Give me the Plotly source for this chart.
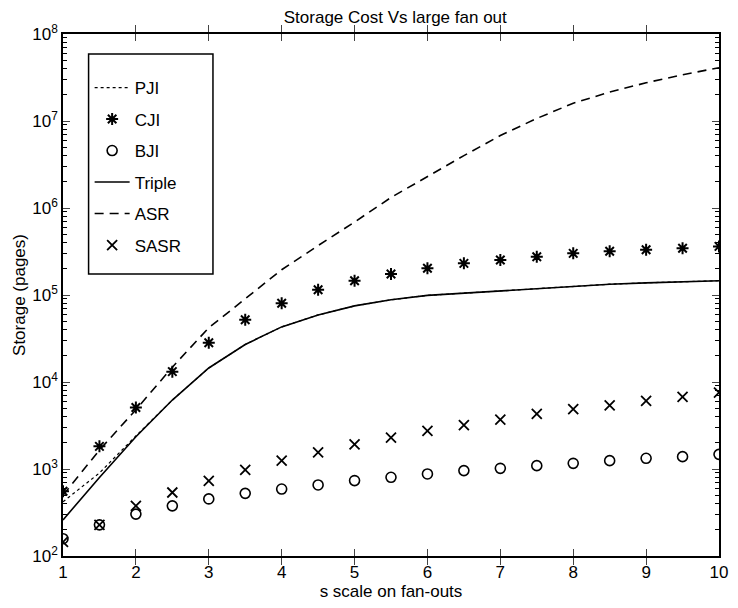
import plotly.graph_objects as go

x_vals = [1, 1.5, 2, 2.5, 3, 3.5, 4, 4.5, 5, 5.5, 6, 6.5, 7, 7.5, 8, 8.5, 9, 9.5, 10]

pji = [420, 900, 2400, 6200, 14500, 27000, 43000, 59000, 75000, 88000, 99000, 105000,
       112000, 120000, 127000, 133000, 138000, 143000, 146000]
cji = [556, 1820, 5090, 13150, 28300, 51900, 80500, 115000, 146000, 174500, 203000, 231000,
       252000, 275000, 301000, 318000, 331000, 344000, 362000]
bji = [158, 228, 303, 377, 453, 525, 588, 656, 736, 803, 877, 958,
       1018, 1093, 1162, 1248, 1327, 1387, 1473]
triple = [260, 800, 2350, 6200, 14500, 27000, 43000, 59000, 75000, 88000, 99000, 105000,
          112000, 120000, 127000, 133000, 138000, 143000, 146000]
asr = [500, 1650, 4800, 14800, 42000, 91000, 195000, 370000, 690000, 1320000, 2300000,
       4000000, 6800000, 10700000, 16000000, 21500000, 27500000, 34000000, 41000000]
sasr = [145, 228, 377, 537, 729, 975, 1250, 1550, 1920, 2290, 2750, 3190,
        3700, 4310, 4870, 5400, 6070, 6740, 7570]

y_tickvals = [1e2, 1e3, 1e4, 1e5, 1e6, 1e7, 1e8]
y_ticktext = ["10<sup>2</sup>", "10<sup>3</sup>", "10<sup>4</sup>", "10<sup>5</sup>",
              "10<sup>6</sup>", "10<sup>7</sup>", "10<sup>8</sup>"]
x_tickvals = [1, 2, 3, 4, 5, 6, 7, 8, 9, 10]

minor_vals = [m * 10 ** e for e in range(2, 8) for m in range(2, 10)]

FONT = "Liberation Sans, Arial, Helvetica, sans-serif"

fig = go.Figure()
fig.add_trace(go.Scatter(x=x_vals, y=pji, name="PJI", mode="lines",
                         line=dict(color="black", width=1.2, dash="dot"), legendgroup="a"))
fig.add_trace(go.Scatter(x=x_vals, y=cji, name="CJI", mode="markers",
                         marker=dict(symbol="asterisk-open", size=10, color="black",
                                     line=dict(color="black", width=2)), legendgroup="b"))
fig.add_trace(go.Scatter(x=x_vals, y=bji, name="BJI", mode="markers",
                         marker=dict(symbol="circle-open", size=10, color="black",
                                     line=dict(color="black", width=1.6)), legendgroup="c"))
fig.add_trace(go.Scatter(x=x_vals, y=triple, name="Triple", mode="lines",
                         line=dict(color="black", width=1.6), legendgroup="d"))
fig.add_trace(go.Scatter(x=x_vals, y=asr, name="ASR", mode="lines",
                         line=dict(color="black", width=1.6, dash="9px,6px"), legendgroup="e"))
fig.add_trace(go.Scatter(x=x_vals, y=sasr, name="SASR", mode="markers", yaxis="y2",
                         marker=dict(symbol="x-thin-open", size=10, color="black",
                                     line=dict(color="black", width=1.8)), legendgroup="f"))

fig.update_layout(
    width=738, height=608,
    margin=dict(l=63, r=10, t=34, b=50),
    paper_bgcolor="white", plot_bgcolor="white",
    font=dict(family=FONT, size=17, color="black"),
    title=dict(text="Storage Cost Vs large fan out", x=0.5356, xanchor="center",
               y=0.972, yanchor="middle", font=dict(size=17)),
    showlegend=True,
    legend=dict(x=0.0406, y=0.931, xanchor="left", yanchor="top",
                borderwidth=0, bgcolor="rgba(0,0,0,0)",
                font=dict(size=17), tracegroupgap=6.4, itemwidth=35),
    shapes=[dict(type="rect", xref="paper", yref="paper",
                 x0=0.039, x1=0.2286, y0=0.540, y1=0.9618,
                 line=dict(color="black", width=1.5), fillcolor="rgba(0,0,0,0)",
                 layer="above")],
    xaxis=dict(range=[1, 10], tickvals=x_tickvals, ticks="inside", ticklen=7,
               tickwidth=1.2, showline=True, linecolor="black", linewidth=1.5,
               mirror="allticks", showgrid=False, zeroline=False,
               title=dict(text="s scale on fan-outs", standoff=4, font=dict(size=17)),
               tickfont=dict(size=17)),
    yaxis=dict(type="log", range=[2, 8], tickvals=y_tickvals, ticktext=y_ticktext,
               ticks="inside", ticklen=7, tickwidth=1.2, showline=True, linecolor="black",
               linewidth=1.5, mirror="allticks", showgrid=False, zeroline=False,
               title=dict(text="Storage (pages)", standoff=2, font=dict(size=17)),
               tickfont=dict(size=17)),
    yaxis2=dict(type="log", range=[2, 8], overlaying="y", side="left", anchor="x",
                tickmode="array", tickvals=minor_vals, ticktext=[""] * len(minor_vals),
                ticks="inside", ticklen=4, tickwidth=1, tickcolor="black",
                mirror="allticks", showline=False, showgrid=False, zeroline=False,
                showticklabels=False),
)

fig.write_html("out.html", post_script="document.body.style.margin='0';",
               config={"displayModeBar": False})
